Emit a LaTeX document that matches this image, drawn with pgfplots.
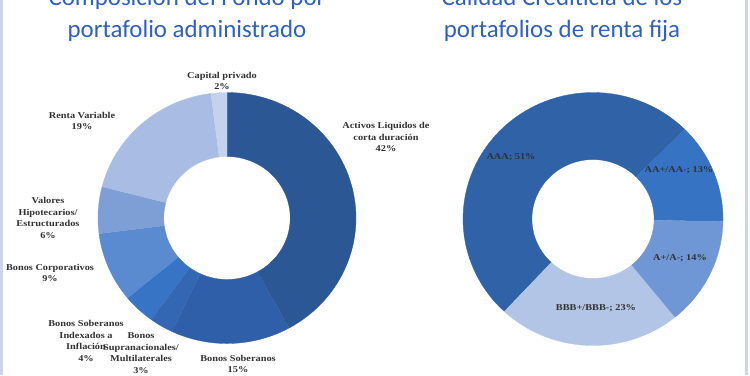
\documentclass[border=0pt]{standalone}
\usepackage{fontspec}
\usepackage{pgfplots}
\pgfplotsset{compat=1.18}
\setmainfont{Liberation Serif}
\newfontfamily\lblfont{Liberation Serif}[FakeStretch=1.15]
\newfontfamily\titlefont{Carlito}
\definecolor{titlecol}{RGB}{46,96,196}
\definecolor{lblcol}{RGB}{50,50,50}
\definecolor{bordercol}{RGB}{205,214,232}
% left donut colours
\definecolor{cA}{RGB}{44,87,149}
\definecolor{cB}{RGB}{47,95,168}
\definecolor{cC}{RGB}{51,102,179}
\definecolor{cD}{RGB}{56,116,198}
\definecolor{cE}{RGB}{90,138,207}
\definecolor{cF}{RGB}{126,158,214}
\definecolor{cG}{RGB}{169,189,228}
\definecolor{cH}{RGB}{197,210,236}
% right donut colours
\definecolor{rA}{RGB}{47,98,166}
\definecolor{rB}{RGB}{55,115,195}
\definecolor{rC}{RGB}{111,150,213}
\definecolor{rD}{RGB}{178,197,231}
% #1 cumulative start, #2 value, #3 colour, #4 total, #5 start angle, #6 inner radius
\newcommand{\slice}[6]{%
\addplot[fill=#3, draw=#3, line width=0.3pt, line join=round, domain=0:3, samples=181, variable=\t]
 ({ifthenelse(\t<=1,1,ifthenelse(\t<=2,1-(1-#6)*(\t-1),#6))*cos(#5-360*(#1+#2*ifthenelse(\t<=1,\t,ifthenelse(\t<=2,1,3-\t)))/#4)},
  {ifthenelse(\t<=1,1,ifthenelse(\t<=2,1-(1-#6)*(\t-1),#6))*sin(#5-360*(#1+#2*ifthenelse(\t<=1,\t,ifthenelse(\t<=2,1,3-\t)))/#4)});
}
\begin{document}
\begin{tikzpicture}[x=1bp,y=1bp]
\fill[white] (0,0) rectangle (750,-375);
\path[use as bounding box] (0,0) rectangle (750,-375);
\fill[bordercol] (0,0) rectangle (3,-375);
\fill[bordercol] (745,0) rectangle (748,-375);

\begin{axis}[at={(227bp,-218bp)}, anchor=center, scale only axis, width=258bp, height=251bp,
  xmin=-1, xmax=1, ymin=-1, ymax=1, hide axis, clip=false]
\slice{0}{42}{cA}{100}{90}{0.49}
\slice{42}{15}{cB}{100}{90}{0.49}
\slice{57}{3}{cC}{100}{90}{0.49}
\slice{60}{4}{cD}{100}{90}{0.49}
\slice{64}{9}{cE}{100}{90}{0.49}
\slice{73}{6}{cF}{100}{90}{0.49}
\slice{79}{19}{cG}{100}{90}{0.49}
\slice{98}{2}{cH}{100}{90}{0.49}
\end{axis}

\begin{axis}[at={(593bp,-219bp)}, anchor=center, scale only axis, width=260bp, height=253bp,
  xmin=-1, xmax=1, ymin=-1, ymax=1, hide axis, clip=false]
\slice{0}{51}{rA}{101}{227}{0.47}
\slice{51}{13}{rB}{101}{227}{0.47}
\slice{64}{14}{rC}{101}{227}{0.47}
\slice{78}{23}{rD}{101}{227}{0.47}
\end{axis}

\begin{scope}[every node/.style={font={\lblfont\bfseries\fontsize{9}{11.7}\selectfont}, align=center, text=lblcol, inner sep=0pt}]
\node at (222,-81) {Capital privado\\2\%};
\node at (386,-137) {Activos Liquidos de\\corta duración\\42\%};
\node at (82,-121) {Renta Variable\\19\%};
\node at (48,-218) {Valores\\Hipotecarios/\\Estructurados\\6\%};
\node at (50,-273) {Bonos Corporativos\\9\%};
\node at (86,-341) {Bonos Soberanos\\Indexados a\\Inflación\\4\%};
\node at (141,-353) {Bonos\\Supranacionales/\\Multilaterales\\3\%};
\node at (238,-364) {Bonos Soberanos\\15\%};
\node at (511,-157) {AAA; 51\%};
\node at (679,-170) {AA+/AA-; 13\%};
\node at (680,-258) {A+/A-; 14\%};
\node at (596,-308) {BBB+/BBB-; 23\%};
\end{scope}

\begin{scope}[every node/.style={font={\titlefont\fontsize{25}{30}\selectfont}, text=titlecol, anchor=base, inner sep=0pt}]
\node at (187,-5) {Composición del Fondo por};
\node at (187,-37) {portafolio administrado};
\node at (562,-5) {Calidad Crediticia de los};
\node at (562,-37) {portafolios de renta fija};
\end{scope}
\end{tikzpicture}
\end{document}
